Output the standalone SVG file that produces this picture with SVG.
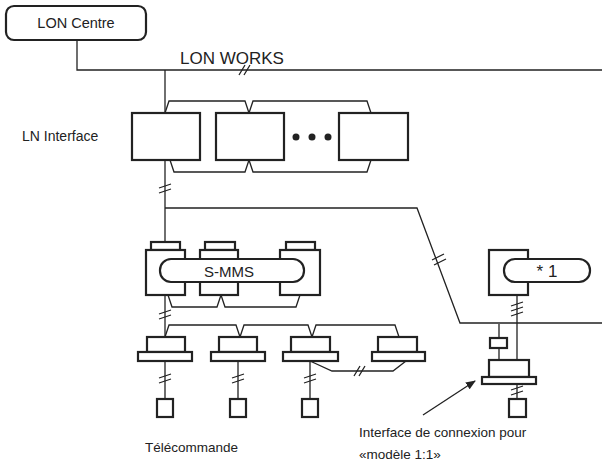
<svg xmlns="http://www.w3.org/2000/svg" width="602" height="468" viewBox="0 0 602 468">
<style>
.l{fill:none;stroke:#222;stroke-width:1.3}
.b{fill:#fff;stroke:#222;stroke-width:2.2}
.t{font-family:"Liberation Sans",Arial,sans-serif;fill:#222}
</style>
<defs>
<g id="bv"><path d="M-6,-1 L6,-5 M-6,4 L6,0" class="l"/></g>
<g id="bh"><path d="M-4,5 L2,-5 M1,5 L7,-5" class="l"/></g>
<marker id="ar" markerWidth="10" markerHeight="8" refX="9" refY="4" orient="auto" markerUnits="userSpaceOnUse"><path d="M0,0 L10,4 L0,8z" fill="#222"/></marker>
</defs>
<g id="connectors">
<path class="l" d="M77,41 V70 H602"/>
<use href="#bh" x="243" y="70"/>
<path class="l" d="M165,70 V113"/>
<path class="l" d="M165,113 L169,101 H245 L249,113 M249,113 L253,101 H367 L371,113"/>
<path class="l" d="M165,160 V242"/>
<use href="#bv" x="165" y="189"/>
<path class="l" d="M170,160 L174,172 H245 L249,160 M249,160 L253,172 H367 L371,160"/>
<path class="l" d="M165,208 H417 L460,323 H602"/>
<path class="l" d="M432,260 L444,254 M434,265 L446,259"/>
<path class="l" d="M168,295 L172,307 H217 L221,295 M221,295 L225,307 H296 L300,295"/>
<path class="l" d="M165,295 V337"/>
<use href="#bv" x="165" y="315"/>
<path class="l" d="M165,337 L169,325 H236 L240,337 M240,337 L244,325 H308 L312,337 M312,337 L316,325 H395 L399,337"/>
<path class="l" d="M165,361 V399 M238,361 V399 M310,361 V399"/>
<use href="#bv" x="165" y="379"/><use href="#bv" x="238" y="379"/><use href="#bv" x="310" y="379"/>
<path class="l" d="M310,361 L332,371 H393 L406,361"/>
<use href="#bh" x="358" y="371"/>
<path class="l" d="M517,295 V360 M499,324 V338 M499,348 V360 M517,383 V399"/>
<path class="l" d="M511,306 L523,302 M511,311 L523,307 M511,316 L523,312"/>
<path class="l" d="M511,390 L523,386 M511,395 L523,391"/>
<path class="l" d="M423,415 L475,381" marker-end="url(#ar)"/>
</g>
<g id="lon-centre"><rect class="b" x="6" y="6" width="140" height="34" rx="8"/><text class="t" x="76" y="28" font-size="14.5" text-anchor="middle">LON Centre</text></g>
<text class="t" x="180" y="64" font-size="17">LON WORKS</text>
<g id="ln-interface">
<text class="t" x="22" y="141" font-size="14">LN Interface</text>
<rect class="b" x="132" y="113" width="68" height="47"/>
<rect class="b" x="216" y="113" width="68" height="47"/>
<rect class="b" x="339" y="113" width="69" height="47"/>
<circle cx="296" cy="137" r="3.5" fill="#222"/><circle cx="312" cy="137" r="3.5" fill="#222"/><circle cx="328" cy="137" r="3.5" fill="#222"/>
</g>
<g id="s-mms">
<rect class="b" x="151" y="242" width="29" height="8"/><rect class="b" x="146" y="250" width="39" height="45"/>
<rect class="b" x="205" y="242" width="30" height="8"/><rect class="b" x="200" y="250" width="38" height="45"/>
<rect class="b" x="286" y="242" width="29" height="8"/><rect class="b" x="280" y="250" width="40" height="45"/>
<rect class="b" x="160" y="259" width="144" height="23" rx="11"/>
<text class="t" x="229" y="277" font-size="15" text-anchor="middle">S-MMS</text>
</g>
<g id="unit1"><rect class="b" x="147" y="337" width="38" height="15"/><rect class="b" x="138" y="352" width="54" height="9"/><rect class="b" x="157" y="399" width="16" height="18"/></g>
<g id="unit2"><rect class="b" x="219" y="337" width="38" height="15"/><rect class="b" x="211" y="352" width="54" height="9"/><rect class="b" x="230" y="399" width="16" height="18"/></g>
<g id="unit3"><rect class="b" x="291" y="337" width="39" height="15"/><rect class="b" x="283" y="352" width="55" height="9"/><rect class="b" x="302" y="399" width="16" height="18"/></g>
<g id="unit4"><rect class="b" x="378" y="337" width="39" height="15"/><rect class="b" x="372" y="352" width="53" height="9"/></g>
<g id="star1">
<rect class="b" x="489" y="250" width="39" height="45"/>
<rect class="b" x="504" y="259" width="86" height="23" rx="11"/>
<text class="t" x="547" y="277" font-size="17" text-anchor="middle">* 1</text>
</g>
<g id="adapter">
<rect class="b" x="490" y="338" width="17" height="10"/>
<rect class="b" x="489" y="360" width="40" height="17"/><rect class="b" x="482" y="377" width="54" height="7"/>
<rect class="b" x="509" y="399" width="17" height="18"/>
</g>
<text class="t" x="145" y="452" font-size="13.5">Télécommande</text>
<text class="t" x="359" y="437" font-size="13.5">Interface de connexion pour</text>
<text class="t" x="359" y="459" font-size="13.5">«modèle 1:1»</text>
</svg>
